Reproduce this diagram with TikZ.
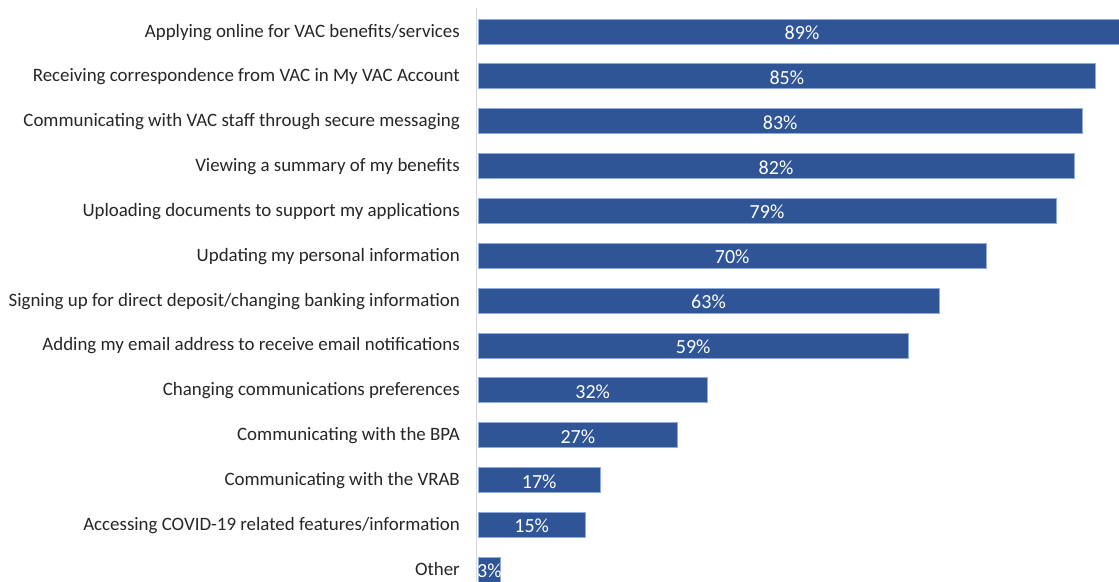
\documentclass[tikz,border=0pt]{standalone}
\usepackage{fontspec}
\setmainfont{Carlito}
\definecolor{barblue}{HTML}{2F5597}
\definecolor{baredge}{HTML}{8FAADC}
\definecolor{labelgray}{HTML}{262626}
\definecolor{axisgray}{HTML}{D9D9D9}
\tikzset{
  catlabel/.style={anchor=base east, text=labelgray, inner sep=0pt, font=\fontsize{18.9}{21}\selectfont},
  barbox/.style={fill=barblue, draw=baredge, line width=0.8pt},
  vallabel/.style={anchor=base, text=white, inner sep=0pt, font=\fontsize{20}{22}\selectfont},
  axisline/.style={draw=axisgray, line width=1.2pt}
}
\begin{document}
\begin{tikzpicture}[x=1pt,y=-1pt]
\useasboundingbox (0,0) rectangle (1119,581);
\clip (0,0) rectangle (1119,581);
\fill[white] (0,0) rectangle (1119,581);
\coordinate (axtop) at (476.7,8);
\coordinate (axbot) at (476.7,581);
\draw[axisline] (axtop) -- (axbot);
\foreach \lab/\v/\xe [count=\i from 0] in {
  {Applying online for VAC benefits/services}/89/1126,
  {Receiving correspondence from VAC in My VAC Account}/85/1095.7,
  {Communicating with VAC staff through secure messaging}/83/1082.3,
  {Viewing a summary of my benefits}/82/1074,
  {Uploading documents to support my applications}/79/1056,
  {Updating my personal information}/70/986.3,
  {Signing up for direct deposit/changing banking information}/63/939,
  {Adding my email address to receive email notifications}/59/908.3,
  {Changing communications preferences}/32/707.3,
  {Communicating with the BPA}/27/677.7,
  {Communicating with the VRAB}/17/600.3,
  {Accessing COVID-19 related features/information}/15/585.3,
  {Other}/3/500.7} {
  \pgfmathsetmacro{\yc}{31.5+44.85*\i}
  \pgfmathsetmacro{\xm}{(478+\xe)/2}
  \node[catlabel] (lab\i) at (460,\yc+5.5) {\lab};
  \draw[barbox] (478,\yc-12.5) rectangle (\xe,\yc+12.5);
  \node[vallabel] (val\i) at (\xm,\yc+8) {\v\%};
}
\end{tikzpicture}
\end{document}
